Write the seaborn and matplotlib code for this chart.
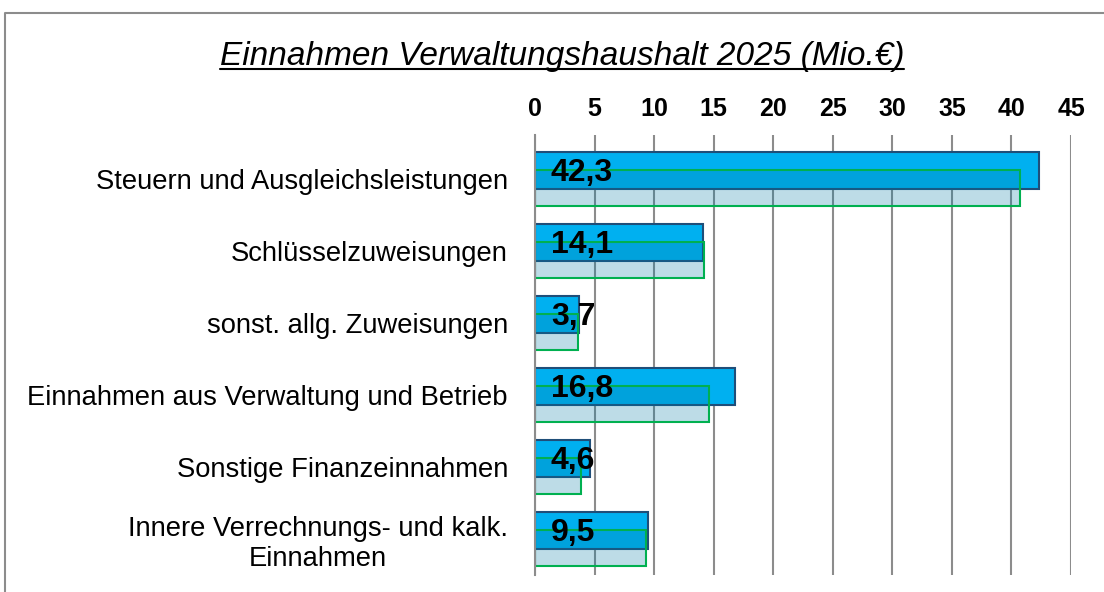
import numpy as np
import pandas as pd
import matplotlib.pyplot as plt
import seaborn as sns
from matplotlib.lines import Line2D

# === Data ===
kategorien = [
    "Steuern und Ausgleichsleistungen",
    "Schlüsselzuweisungen",
    "sonst. allg. Zuweisungen",
    "Einnahmen aus Verwaltung und Betrieb",
    "Sonstige Finanzeinnahmen",
    "Innere Verrechnungs- und kalk.\nEinnahmen",
]
werte_2025 = [42.3, 14.1, 3.7, 16.8, 4.6, 9.5]
werte_vorjahr = [40.7, 14.2, 3.6, 14.6, 3.9, 9.3]
x_ticks = [0, 5, 10, 15, 20, 25, 30, 35, 40, 45]

pos = np.arange(len(kategorien))
df_neu = pd.DataFrame({"pos": pos - 0.12, "wert": werte_2025})
df_alt = pd.DataFrame({"pos": pos + 0.12, "wert": werte_vorjahr})

sns.set_style("white")
plt.rcParams["font.family"] = ["Liberation Sans", "DejaVu Sans"]
plt.rcParams["text.color"] = "black"
plt.rcParams["xtick.color"] = "black"
plt.rcParams["ytick.color"] = "black"

fig = plt.figure(figsize=(11.04, 5.92), dpi=100)
ax = fig.add_axes([535 / 1104, 1 - 575 / 592, (1071 - 535) / 1104, (575 - 135) / 592])

# === Balken ===
sns.barplot(data=df_neu, x="wert", y="pos", orient="y", native_scale=True,
            width=0.51, color="#00B0F0", edgecolor="#1F4E79", linewidth=1.5,
            saturation=1, ax=ax)
sns.barplot(data=df_alt, x="wert", y="pos", orient="y", native_scale=True,
            width=0.5, facecolor=(0.0, 0.48, 0.65, 0.26), edgecolor="#00B050",
            linewidth=1.5, ax=ax)

# Werte als Beschriftung
for p, v in zip(df_neu["pos"], df_neu["wert"]):
    ax.annotate(f"{v:.1f}".replace(".", ","), xy=(0, p), xytext=(11.5, -2),
                textcoords="offset points", va="center", ha="left",
                fontsize=23, fontweight="bold", color="black")

# === Achsen ===
ax.set_xlim(0, 45)
ax.set_ylim(5.5, -0.611)
ax.set_xticks(x_ticks)
ax.xaxis.tick_top()
ax.tick_params(axis="x", length=0, pad=10, labelsize=18, labelcolor="black")
for lbl in ax.get_xticklabels():
    lbl.set_fontweight("bold")

ax.set_yticks(pos)
ax.set_yticklabels(kategorien, fontsize=19.7, multialignment="center")
ax.set_yticks(np.arange(len(kategorien) + 1) - 0.5, minor=True)
ax.tick_params(axis="y", which="major", length=0, pad=19.5, labelcolor="black")
ax.tick_params(axis="y", which="minor", length=6, width=1.5, color="#8c8c8c",
               direction="out")

ax.grid(axis="x", color="#8c8c8c", linewidth=1.5)
ax.set_axisbelow(True)
for s in ["top", "right", "bottom"]:
    ax.spines[s].set_visible(False)
ax.spines["left"].set_color("#8c8c8c")
ax.spines["left"].set_linewidth(1.5)
ax.set_xlabel("")
ax.set_ylabel("")

# === Titel mit Unterstreichung ===
titel = fig.text(0.509, 1 - 65 / 592, "Einnahmen Verwaltungshaushalt 2025 (Mio.€)",
                 ha="center", va="baseline", fontsize=24, fontstyle="italic",
                 color="black")
fig.canvas.draw()
bb = titel.get_window_extent(fig.canvas.get_renderer())
y_u = 1 - 69 / 592
fig.add_artist(Line2D([bb.x0 / 1104, bb.x1 / 1104], [y_u, y_u], color="black",
                      linewidth=1.5, transform=fig.transFigure))

# Rahmen
fig.add_artist(Line2D([5 / 1104, 5 / 1104, 1.0], [0.0, 1 - 13 / 592, 1 - 13 / 592],
                      color="#8c8c8c", linewidth=1.5, transform=fig.transFigure))

fig.savefig("out.png", dpi=100)
